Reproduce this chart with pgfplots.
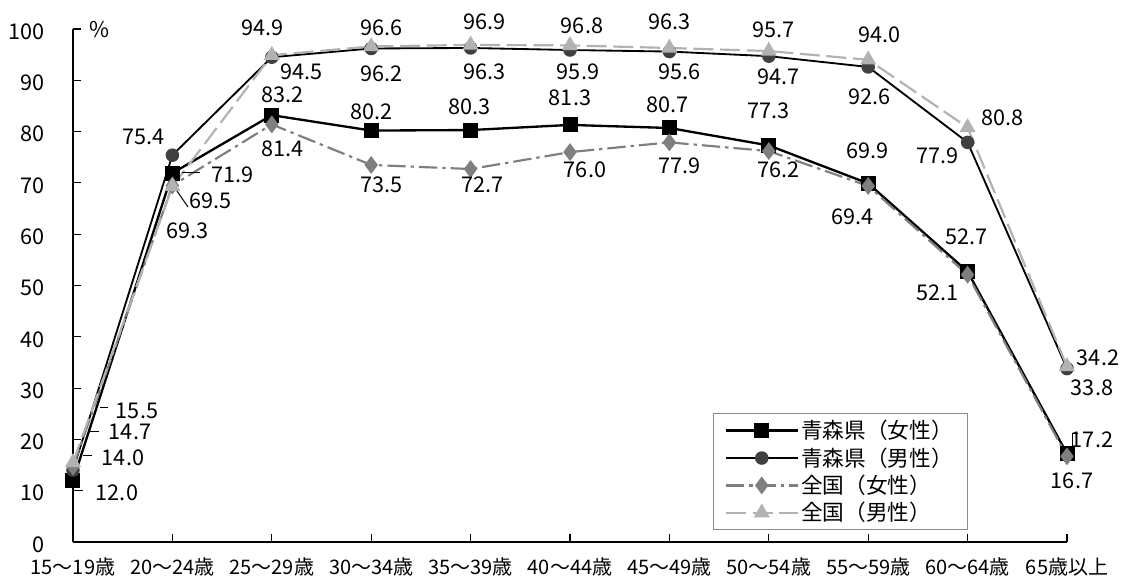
\documentclass[border=0pt]{standalone}
\usepackage{fontspec}
\setmainfont{Noto Sans CJK JP}
\usepackage{pgfplots}
\pgfplotsset{compat=1.18}
\usepackage{pgfplotstable}

\definecolor{amark}{HTML}{404040}
\definecolor{nfcol}{HTML}{7F7F7F}
\definecolor{nmcol}{HTML}{B2B2B2}

\newcommand{\lblfont}{\fontsize{13pt}{15pt}\selectfont}

% x = category index, y = value, dx/dy = label offset in px
\pgfplotstableread{
x y dx dy
0 12.0 44 -12
1 71.9 60 -2
2 83.2 11 20
3 80.2 0 19
4 80.3 -1 23
5 81.3 0 27
6 80.7 -2 23
7 77.3 0 35
8 69.9 -1 33
9 52.7 -1 35
10 17.2 25 14
}\aomoriF

\pgfplotstableread{
x y dx dy
0 14.0 50 12
1 75.4 -29 18
2 94.5 30 -15
3 96.2 10 -25
4 96.3 14 -24
5 95.9 8 -22
6 95.6 10 -20
7 94.7 10 -21
8 92.6 1 -30
9 77.9 -30 -13
10 33.8 25 -19
}\aomoriM

\pgfplotstableread{
x y dx dy
0 14.7 57 35
1 69.5 38 -15
2 81.4 11 -24
3 73.5 10 -20
4 72.7 12 -16
5 76.0 15 -18
6 77.9 10 -23
7 76.2 10 -19
8 69.4 -16 -31
9 52.1 -30 -18
10 16.7 5 -24
}\zenkokuF

\pgfplotstableread{
x y dx dy
0 15.5 64 52
1 69.3 15 -44
2 94.9 -9 27
3 96.6 10 19
4 96.9 14 23
5 96.8 12 20
6 96.3 0 26
7 95.7 5 21
8 94.0 11 25
9 80.8 35 10
10 34.2 31 9
}\zenkokuM

\pgfplotsset{
  lbl/.style={
    visualization depends on={\thisrow{dx} \as \dx},
    visualization depends on={\thisrow{dy} \as \dy},
    nodes near coords={\pgfmathprintnumber[fixed,fixed zerofill,precision=1,assume math mode=true]{\pgfplotspointmeta}},
    every node near coord/.append style={anchor=center, inner sep=0pt,
      xshift=\dx*0.6pt, yshift=\dy*0.6pt, text=black, font=\lblfont},
  },
}

\begin{document}
\begin{tikzpicture}
\begin{axis}[
  scale only axis, width=596.4pt, height=307.8pt,
  xmin=0, xmax=10, ymin=0, ymax=100,
  clip=false,
  axis lines=left,
  axis line style={-, line width=0.7pt},
  xtick={0,...,10},
  xticklabels={15〜19歳,20〜24歳,25〜29歳,30〜34歳,35〜39歳,40〜44歳,45〜49歳,50〜54歳,55〜59歳,60〜64歳,65歳以上},
  ytick={0,10,...,100},
  tick align=inside, major tick length=5pt,
  tick style={black, line width=0.7pt},
  /pgf/number format/assume math mode=true,
  yticklabel style={font=\lblfont, anchor=east, inner sep=0pt, xshift=-16.8pt, yshift=-1.5pt},
  xticklabel style={font=\fontsize{12pt}{14pt}\selectfont, anchor=center, inner sep=0pt, yshift=-15pt},
  legend cell align=left,
  legend image code/.code={\draw[mark repeat=2,mark phase=2,#1] plot coordinates {(0pt,0pt) (21.5pt,0pt) (43pt,0pt)};},
  legend style={at={(0.900,0.2515)}, anchor=north east, draw=black!45,
    line width=0.6pt, font=\lblfont, inner xsep=7pt, inner ysep=2.5pt,
    row sep=0.8pt, nodes={inner sep=1.5pt}},
]
\addplot[black, line width=1.4pt, mark=square*, mark size=3.8pt,
  mark options={solid, fill=black, draw=black}, lbl] table[x=x, y=y] {\aomoriF};
\addlegendentry{青森県（女性）}
\addplot[black, line width=1.1pt, mark=*, mark size=3.5pt,
  mark options={solid, fill=amark, draw=amark}, lbl] table[x=x, y=y] {\aomoriM};
\addlegendentry{青森県（男性）}
\addplot[nfcol, line width=1.3pt, dash pattern=on 11pt off 3pt on 2pt off 3pt,
  mark=diamond*, mark size=4.3pt,
  mark options={solid, fill=nfcol, draw=nfcol}, lbl] table[x=x, y=y] {\zenkokuF};
\addlegendentry{全国（女性）}
\addplot[nmcol, line width=1.3pt, dash pattern=on 12pt off 4pt,
  mark=triangle*, mark size=4.3pt,
  mark options={solid, fill=nmcol, draw=nmcol}, lbl] table[x=x, y=y] {\zenkokuM};
\addlegendentry{全国（男性）}

% leader lines of the crowded labels
\draw[black, line width=0.6pt] (axis cs:0.272,26.3) -- (axis cs:0.352,26.3);
\draw[black, line width=0.6pt] (axis cs:0.171,21.6) -- (axis cs:0.262,21.6);
\draw[black, line width=0.6pt] (axis cs:0.10,16.8) -- (axis cs:0.19,16.8);
\draw[black, line width=0.6pt] (axis cs:0.02,10.1) -- (axis cs:0.10,10.1);
\draw[black, line width=0.6pt] (axis cs:1.097,72.1) -- (axis cs:1.278,72.1);
\draw[black, line width=0.6pt] (axis cs:1.026,69.0) -- (axis cs:1.157,65.3);
\draw[black, line width=0.6pt] (axis cs:10.06,18.3) -- (axis cs:10.06,21.2) -- (axis cs:10.11,21.2);

\node[font=\lblfont, inner sep=0pt] at (axis cs:0.27,99.8) {\%};
\end{axis}
\pgfresetboundingbox
\path[use as bounding box] ([xshift=-43.8pt,yshift=-21.6pt]current axis.south west)
  rectangle ([xshift=34.8pt,yshift=17.4pt]current axis.north east);
\end{tikzpicture}
\end{document}
